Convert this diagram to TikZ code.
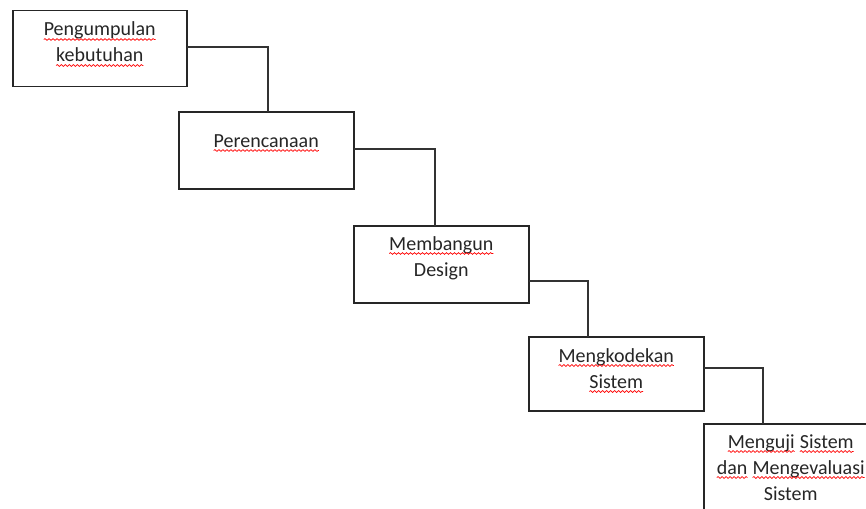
\documentclass[tikz,border=0pt]{standalone}
\usepackage{fontspec}
\setmainfont{Carlito}
\usetikzlibrary{positioning,decorations.pathmorphing}

% red wavy line under a word
\newcommand\typo[1]{\tikz[baseline=(w.base)]{\node[inner sep=0pt,outer sep=0pt,anchor=base] (w) {#1};
\draw[red,line width=0.7pt,decorate,decoration={snake,amplitude=0.9pt,segment length=4pt}] ([yshift=-3.5pt]w.base west) -- ([yshift=-3.5pt]w.base east);}}

\tikzset{stage box/.style={draw=black!85,line width=1.5pt,rectangle,anchor=north west,inner sep=0pt,minimum width=174pt,minimum height=76pt},
stage text/.style={font=\fontsize{20}{26}\selectfont,text=black!85,align=center,anchor=base,inner sep=0pt},
link/.style={draw=black!80,line width=1.4pt,line cap=rect}}

\begin{document}
\begin{tikzpicture}[x=1pt,y=-1pt]
\useasboundingbox (0,0) rectangle (866,508);

%% boxes
\node [stage box] (b1) at (12,10) {};
\node [stage box,minimum width=175pt,minimum height=77pt] (b2) at (178,111) {};
\node [stage box,minimum width=175pt,minimum height=77pt] (b3) at (353,225) {};
\node [stage box,minimum width=175pt,minimum height=74pt] (b4) at (528,336) {};
\node [stage box,minimum height=100pt] (b5) at (703,423) {};

%% texts (base = last line)
\node [stage text] (t1) at ([yshift=-52pt]b1.north) {\typo{Pengumpulan}\\\typo{kebutuhan}};
\node [stage text] (t2) at ([yshift=-36pt]b2.north) {\typo{Perencanaan}};
\node [stage text] (t3) at ([yshift=-51pt]b3.north) {\typo{Membangun}\\Design};
\node [stage text] (t4) at ([yshift=-52pt]b4.north) {\typo{Mengkodekan}\\\typo{Sistem}};
\node [stage text] (t5) at ([yshift=-77pt]b5.north) {\typo{Menguji} \typo{Sistem}\\\typo{dan} \typo{Mengevaluasi}\\Sistem};

%% bends
\coordinate (k1) at (268,47);
\coordinate (k2) at (435,149);
\coordinate (k3) at (588,281);
\coordinate (k4) at (763,368);

%% connectors
\draw [link] (b1.east |- k1) -- (k1) -- (k1 |- b2.north);
\draw [link] (b2.east |- k2) -- (k2) -- (k2 |- b3.north);
\draw [link] (b3.east |- k3) -- (k3) -- (k3 |- b4.north);
\draw [link] (b4.east |- k4) -- (k4) -- (k4 |- b5.north);

\end{tikzpicture}
\end{document}
